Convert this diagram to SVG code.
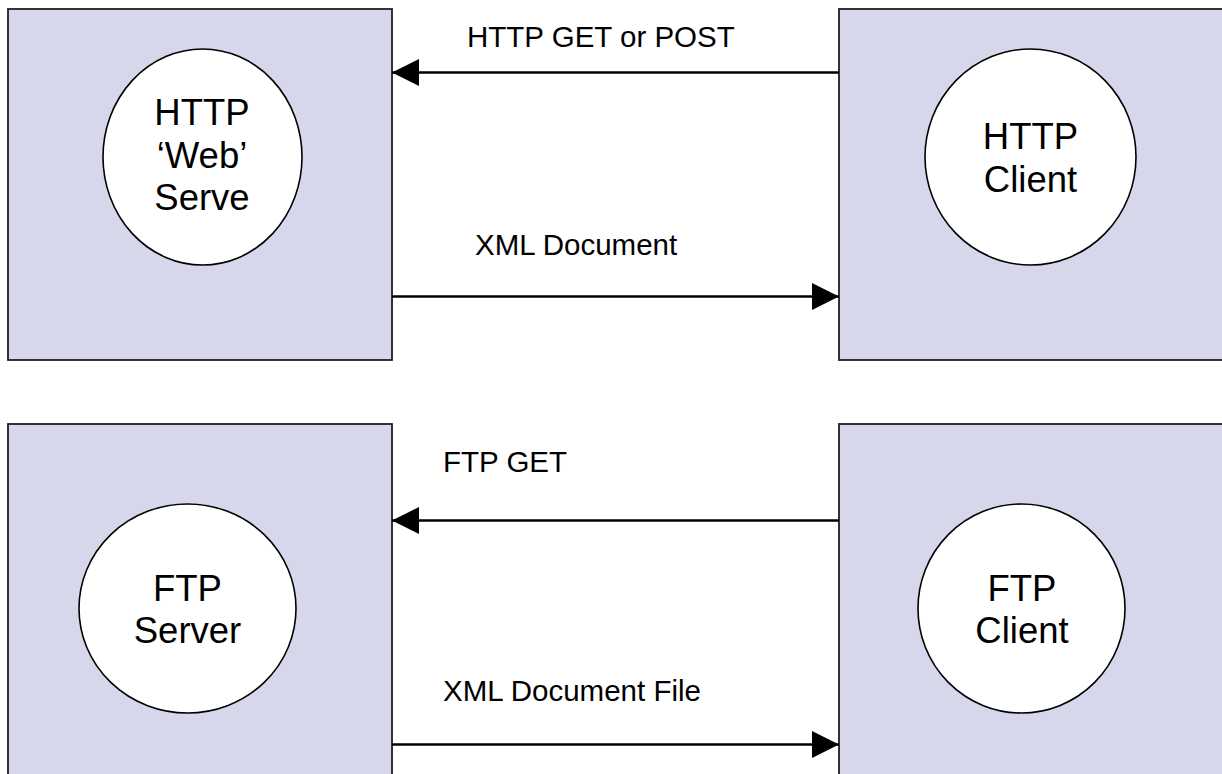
<svg xmlns="http://www.w3.org/2000/svg" width="1222" height="774" viewBox="0 0 1222 774">
  <defs>
    <style>
      .box { fill: #D6D7EB; stroke: #1e1e1e; stroke-width: 1.8; }
      .node { fill: #FFFFFF; stroke: #000000; stroke-width: 1.6; }
      .name { font-family: "Liberation Sans", Arial, sans-serif; font-size: 36.5px; fill: #000000; text-anchor: middle; }
      .label { font-family: "Liberation Sans", Arial, sans-serif; font-size: 29.5px; fill: #000000; }
      .wire { stroke: #000000; stroke-width: 2.5; fill: none; marker-end: url(#head); }
    </style>
    <marker id="head" markerUnits="userSpaceOnUse" markerWidth="27" markerHeight="27" refX="27" refY="13.5" orient="auto">
      <path d="M0,0 L27,13.5 L0,27 Z" fill="#000000"/>
    </marker>
  </defs>

  <rect width="1222" height="774" fill="#FFFFFF"/>

  <!-- HTTP server -->
  <g id="http-server">
    <rect class="box" x="8" y="9" width="384" height="351"/>
    <ellipse class="node" cx="202.5" cy="157" rx="99.5" ry="108"/>
    <text class="name" x="202" y="125">HTTP</text>
    <text class="name" x="202" y="167.5">‘Web’</text>
    <text class="name" x="202" y="210">Serve</text>
  </g>

  <!-- HTTP client -->
  <g id="http-client">
    <rect class="box" x="839" y="9" width="400" height="351"/>
    <ellipse class="node" cx="1030.5" cy="157" rx="105.5" ry="108"/>
    <text class="name" x="1030.5" y="149">HTTP</text>
    <text class="name" x="1030.5" y="192">Client</text>
  </g>

  <!-- FTP server -->
  <g id="ftp-server">
    <rect class="box" x="8" y="424" width="384" height="400"/>
    <ellipse class="node" cx="187.5" cy="608.5" rx="108.5" ry="104.5"/>
    <text class="name" x="187.5" y="601">FTP</text>
    <text class="name" x="187.5" y="643">Server</text>
  </g>

  <!-- FTP client -->
  <g id="ftp-client">
    <rect class="box" x="839" y="424" width="400" height="400"/>
    <ellipse class="node" cx="1021.5" cy="608.5" rx="103.5" ry="104.5"/>
    <text class="name" x="1022" y="601">FTP</text>
    <text class="name" x="1022" y="643">Client</text>
  </g>

  <!-- request / response connectors -->
  <g id="connectors">
    <line class="wire" x1="839" y1="72.5" x2="392" y2="72.5"/>
    <text class="label" x="467" y="47">HTTP GET or POST</text>

    <line class="wire" x1="392" y1="296.5" x2="839" y2="296.5"/>
    <text class="label" x="475" y="255">XML Document</text>

    <line class="wire" x1="839" y1="520.5" x2="392" y2="520.5"/>
    <text class="label" x="443" y="472">FTP GET</text>

    <line class="wire" x1="392" y1="744.5" x2="839" y2="744.5"/>
    <text class="label" x="443" y="701">XML Document File</text>
  </g>
</svg>
